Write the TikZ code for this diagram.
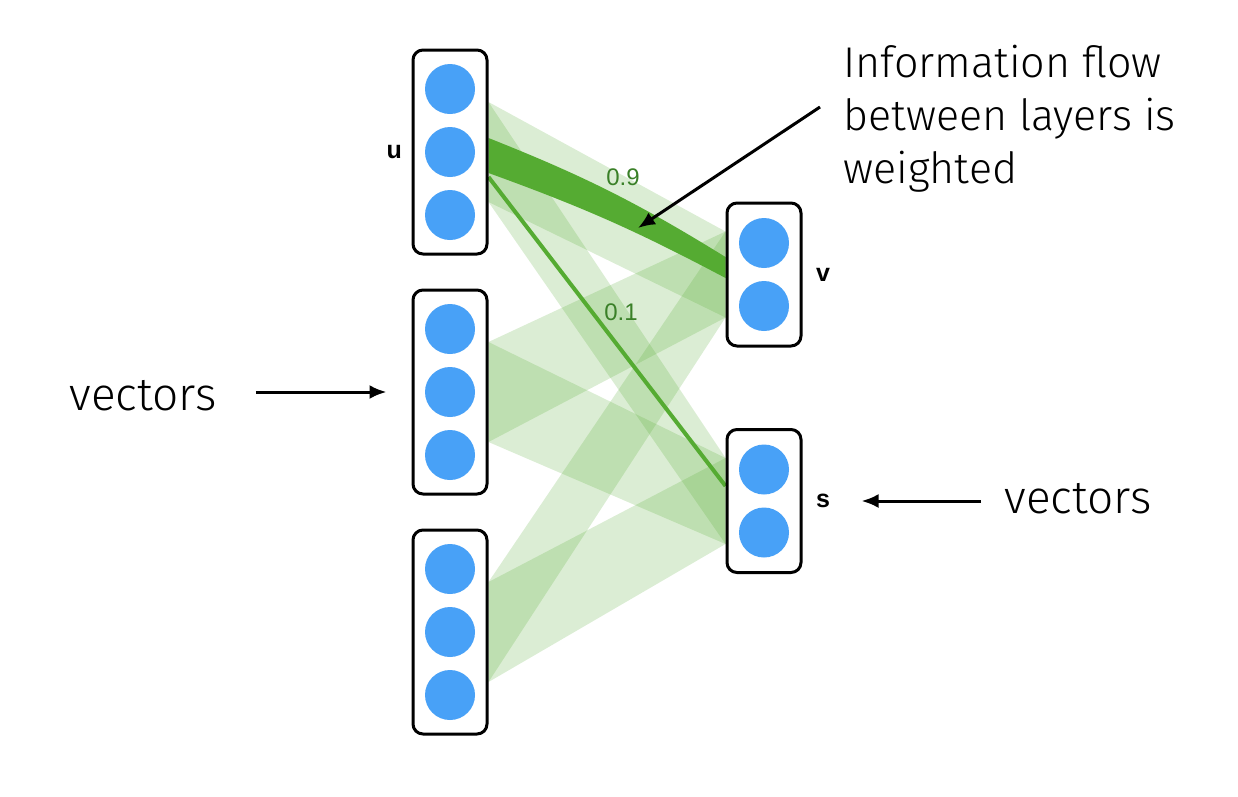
\documentclass[tikz,border=0pt]{standalone}
\usepackage{fontspec}
\setmainfont{Fira Sans}[UprightFont=* Light]
\newfontfamily\labelfont{Liberation Sans}
\usetikzlibrary{positioning,arrows.meta,backgrounds}
\definecolor{unitblue}{RGB}{72,161,247}
\definecolor{flowgreen}{RGB}{85,171,50}
\definecolor{weightgreen}{RGB}{58,128,40}

\begin{document}
\begin{tikzpicture}[x=1pt, y=-1pt, node distance=33pt, >={Latex[length=17pt,width=14pt]}, line width=3pt,
    layer/.style={draw, rectangle, rounded corners=10pt, fill=white, minimum width=74pt, inner sep=0pt},
    unit/.style={circle, fill=unitblue, minimum size=50pt, inner sep=0pt},
    tag/.style={font=\labelfont\bfseries\fontsize{25}{28}\selectfont, inner sep=0pt},
    weight/.style={font=\labelfont\fontsize{24}{28}\selectfont, text=weightgreen, inner sep=0pt},
    note/.style={inner sep=0pt, align=left}]
    \useasboundingbox (0,0) rectangle (1238,796);

    % Layers of vectors
    \node[layer, minimum height=204pt] (u) at (450,152) {};
    \node[layer, minimum height=204pt, below=of u] (mid) {};
    \node[layer, minimum height=204pt, below=of mid] (low) {};
    \node[layer, minimum height=143pt] (v) at (764,274.5) {};
    \node[layer, minimum height=143pt] (s) at (764,501) {};

    % Units inside each layer
    \foreach \b in {u,mid,low}
        \foreach \k/\d in {1/63,2/0,3/-63}
            \node[unit] (\b\k) at ([yshift=\d pt]\b.center) {};
    \foreach \b in {v,s}
        \foreach \k/\d in {1/31.5,2/-31.5}
            \node[unit] (\b\k) at ([yshift=\d pt]\b.center) {};

    % Weighted flow between layers
    \begin{scope}[on background layer]
        \foreach \l in {u,mid,low}
            \foreach \r in {v,s}
                \fill[flowgreen, opacity=0.21] ([yshift=50pt]\l.east) -- ([yshift=-50pt]\l.east)
                    -- ([yshift=-43pt]\r.west) -- ([yshift=43pt]\r.west) -- cycle;
        \fill[flowgreen] ([yshift=14pt]u.east) to[bend left=5] ([yshift=17.5pt]v.west)
            -- ([yshift=-3.5pt]v.west) to[bend right=4] ([yshift=-21pt]u.east) -- cycle;
        \draw[flowgreen, line width=4pt] ([yshift=-25pt]u.east) -- ([yshift=15pt]s.west);
    \end{scope}
    \coordinate (flowpt) at (638,228);
    \node[weight] (w9) at (623,177) {0.9};
    \node[weight] (w1) at (621,312) {0.1};

    % Layer names
    \node[tag, left=8pt of u] (ulabel) {u};
    \node[tag, right=12pt of v] (vlabel) {v};
    \node[tag, right=12pt of s] (slabel) {s};

    % Notes
    \node[note, anchor=north west, font=\fontsize{43}{53}\selectfont] (info) at (842,44)
        {Information flow\\between layers is\\weighted};
    \node[note, font=\fontsize{46}{50}\selectfont] (vecl) at (143,396) {vectors};
    \node[note, font=\fontsize{46}{50}\selectfont] (vecr) at (1078,499) {vectors};

    \draw[->] ([xshift=-22pt,yshift=-63pt]info.north west) -- (flowpt);
    \draw[->, shorten <=38pt, shorten >=25pt] (vecl.east |- mid.west) -- (mid.west);
    \draw[->, shorten <=22pt, shorten >=59pt] (vecr.west |- s.east) -- (s.east);
\end{tikzpicture}
\end{document}
